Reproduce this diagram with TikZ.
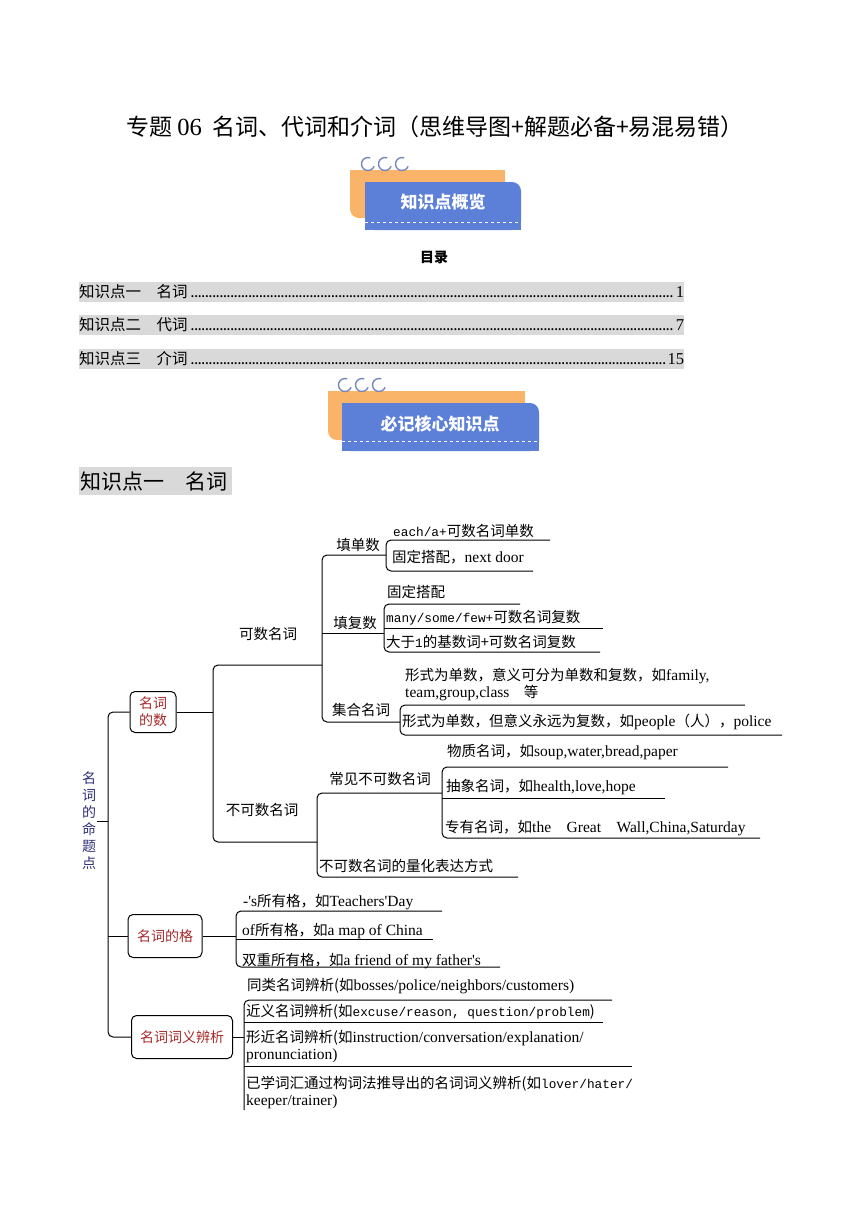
\documentclass[tikz,border=0pt]{standalone}
\usepackage{fontspec}
\setmainfont{Noto Sans CJK SC}
\newfontfamily\enf[Scale=1.07]{Liberation Serif}
\newfontfamily\monof[Scale=0.88]{Liberation Mono}
\definecolor{bannerorange}{RGB}{250,180,105}
\definecolor{bannerblue}{RGB}{92,128,216}
\definecolor{ringblue}{RGB}{120,135,185}
\definecolor{tocgray}{RGB}{217,217,217}
\definecolor{catred}{RGB}{165,40,40}
\definecolor{rootnavy}{RGB}{45,45,120}
\newcommand\tocdots{\leaders\hbox to 3.6pt{\hss.\hss}\hfill}

\begin{document}
\begin{tikzpicture}[x=1pt, y=-1pt,
    lnk/.style={draw, line width=1pt, rounded corners=5pt},
    leaf/.style={anchor=west, inner sep=0pt, font=\fontsize{14.5}{17}\selectfont},
    lbl/.style={inner sep=0pt, font=\fontsize{14.5}{17}\selectfont},
    catbox/.style={draw, line width=1pt, rounded corners=5pt, text=catred, align=center, inner sep=2pt, font=\fontsize{14}{17}\selectfont},
    tocrow/.style={anchor=west, fill=tocgray, inner sep=0pt, minimum height=20pt, text width=605pt, font=\fontsize{15.5}{15}\selectfont},
    banner/.style={text=white, font=\fontsize{17}{17}\selectfont\bfseries}
]
    \useasboundingbox (0,0) rectangle (868,1227);

    % Title
    \node[font=\fontsize{23}{23}\selectfont] (title) at (435,127) {专题 {\enf 06}\ \ 名词、代词和介词（思维导图+解题必备+易混易错）};

    % Banner 1
    \fill[bannerorange, rounded corners=9pt] (350,170) rectangle (505,218);
    \fill[bannerorange] (350,170) rectangle (505,205);
    \fill[bannerorange] (362,170) rectangle (505,218);
    \fill[bannerblue, rounded corners=9pt] (365,182) rectangle (521,230);
    \fill[bannerblue] (365,182) rectangle (508,230);
    \fill[bannerblue] (365,195) rectangle (521,230);
    \foreach \x in {368,385,402}
        \draw[ringblue, line width=1.4pt] (\x,164) ++(20:6.5) arc(20:290:6.5);
    \draw[white, dashed, line width=0.8pt] (365,222) -- (521,222);
    \node[banner] (ban1) at (443,202) {知识点概览};

    % Contents
    \node[font=\fontsize{14}{14}\selectfont\bfseries] (toctitle) at (434,257) {目录};
    \node[tocrow] (toc1) at (79,292) {知识点一\hspace{1em}名词\tocdots{\enf 1}};
    \node[tocrow] (toc2) at (79,325) {知识点二\hspace{1em}代词\tocdots{\enf 7}};
    \node[tocrow] (toc3) at (79,359) {知识点三\hspace{1em}介词\tocdots{\enf 15}};

    % Banner 2
    \fill[bannerorange, rounded corners=9pt] (328,391) rectangle (525,440);
    \fill[bannerorange] (328,391) rectangle (525,427);
    \fill[bannerorange] (340,391) rectangle (525,440);
    \fill[bannerblue, rounded corners=9pt] (342,403) rectangle (539,451);
    \fill[bannerblue] (342,403) rectangle (526,451);
    \fill[bannerblue] (342,416) rectangle (539,451);
    \foreach \x in {345,362,379}
        \draw[ringblue, line width=1.4pt] (\x,385) ++(20:6.5) arc(20:290:6.5);
    \draw[white, dashed, line width=0.8pt] (342,441) -- (539,441);
    \node[banner] (ban2) at (440,424) {必记核心知识点};

    % Heading
    \node[anchor=west, fill=tocgray, inner sep=1pt, minimum height=28pt, text width=151pt, font=\fontsize{21}{21}\selectfont] (head) at (79,481) {知识点一\hspace{1em}名词};

    % Root
    \node[align=center, text=rootnavy, inner sep=0pt, font=\fontsize{14}{17}\selectfont] (root) at (89,821) {名\\词\\的\\命\\题\\点};
    \draw[line width=1pt] (root.east) ++(1,0) -- (108,821);

    % Categories
    \node[catbox, minimum width=46pt, minimum height=41pt] (cnt) at (153,712) {名词\\的数};
    \node[catbox, minimum width=74pt, minimum height=43pt] (gen) at (165,936) {名词的格};
    \node[catbox, minimum width=101pt, minimum height=43pt] (syn) at (182,1037) {名词词义辨析};
    \draw[lnk] (cnt.west) -- (108,712) -- (108,1037) -- (syn.west);
    \draw[lnk] (108,936) -- (gen.west);

    % Countable / uncountable
    \draw[lnk] (cnt.east) -- (213,712);
    \draw[lnk] (322,665) -- (213,665) -- (213,842) -- (317,842);
    \node[lbl] (cn) at (268,634) {可数名词};
    \node[lbl] (un) at (262,810) {不可数名词};

    \draw[lnk] (386,555) -- (322,555) -- (322,722) -- (400,722);
    \draw[lnk] (322,633) -- (384,633);
    \node[lbl] (sg) at (358,545) {填单数};
    \node[lbl] (pl) at (355,623) {填复数};
    \node[lbl] (coll) at (361,710) {集合名词};

    \draw[lnk] (550,540) -- (386,540) -- (386,571) -- (533,571);
    \node[leaf] (sg1) at (393,531) {{\monof each/a+}可数名词单数};
    \node[leaf] (sg2) at (392,557) {固定搭配，{\enf next door}};

    \draw[lnk] (520,604) -- (384,604) -- (384,652) -- (600,652);
    \draw[lnk] (384,628) -- (603,628);
    \node[leaf] (pl1) at (387,592) {固定搭配};
    \node[leaf] (pl2) at (386,618) {{\monof many/some/few+}可数名词复数};
    \node[leaf] (pl3) at (386,642) {大于{\monof 1}的基数词+可数名词复数};

    \draw[lnk] (745,705) -- (400,705) -- (400,735) -- (782,735);
    \node[leaf, align=left] (coll1) at (405,685) {形式为单数，意义可分为单数和复数，如{\enf family,}\\{\enf team,group,class}\quad 等};
    \node[leaf] (coll2) at (402,722) {形式为单数，但意义永远为复数，如{\enf people}（人），{\enf police}};

    \draw[lnk] (442,793) -- (317,793) -- (317,877) -- (518,877);
    \node[lbl] (com) at (380,779) {常见不可数名词};
    \node[leaf] (qty) at (319,866) {不可数名词的量化表达方式};

    \draw[lnk] (728,767) -- (442,767) -- (442,838) -- (760,838);
    \draw[lnk] (442,798) -- (665,798);
    \node[leaf] (un1) at (447,752) {物质名词，如{\enf soup,water,bread,paper}};
    \node[leaf] (un2) at (446,787) {抽象名词，如{\enf health,love,hope}};
    \node[leaf] (un3) at (445,828) {专有名词，如{\enf the\quad Great\quad Wall,China,Saturday}};

    % Genitive
    \draw[lnk] (gen.east) -- (236,936);
    \draw[lnk] (442,911) -- (236,911) -- (236,967) -- (500,967);
    \draw[lnk] (236,939) -- (433,939);
    \node[leaf] (gen1) at (243,902) {{\enf -'s}所有格，如{\enf Teachers'Day}};
    \node[leaf] (gen2) at (242,931) {{\enf of}所有格，如{\enf a map of China}};
    \node[leaf] (gen3) at (242,961) {双重所有格，如{\enf a\ friend\ of\ my\ father's}};

    % Meaning
    \draw[lnk] (syn.east) -- (244,1037);
    \draw[lnk] (612,1000) -- (244,1000) -- (244,1110);
    \draw[lnk] (244,1022) -- (603,1022);
    \draw[lnk] (244,1066) -- (632,1066);
    \node[leaf] (syn1) at (247,986) {同类名词辨析(如{\enf bosses/police/neighbors/customers)}};
    \node[leaf] (syn2) at (246,1012) {近义名词辨析(如{\monof excuse/reason, question/problem})};
    \node[leaf, align=left] (syn3) at (246,1047) {形近名词辨析(如{\enf instruction/conversation/explanation/}\\{\enf pronunciation)}};
    \node[leaf, align=left] (syn4) at (246,1092) {已学词汇通过构词法推导出的名词词义辨析(如{\monof lover/hater/}\\{\enf keeper/trainer)}};

\end{tikzpicture}
\end{document}
